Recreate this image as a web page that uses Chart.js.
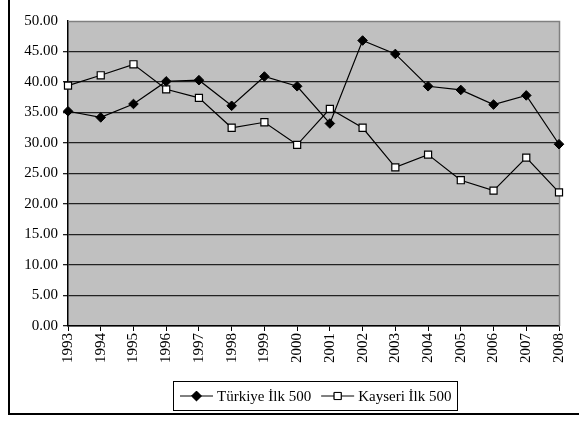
<!DOCTYPE html>
<html>
<head>
<meta charset="utf-8">
<script src="https://cdn.jsdelivr.net/npm/chart.js@4/dist/chart.umd.min.js"></script>
<style>
  html, body { margin: 0; padding: 0; background: #fff; }
  #wrap { width: 579px; height: 421px; position: relative; }
</style>
</head>
<body>
<div id="wrap"><canvas id="myChart" width="579" height="421"></canvas></div>
<script>
var years = ['1993','1994','1995','1996','1997','1998','1999','2000','2001','2002','2003','2004','2005','2006','2007','2008'];
var turkiye = [35.2, 34.2, 36.4, 40.1, 40.3, 36.1, 40.9, 39.3, 33.2, 46.8, 44.6, 39.3, 38.7, 36.3, 37.8, 29.8];
var kayseri = [39.4, 41.1, 42.9, 38.8, 37.4, 32.5, 33.4, 29.7, 35.6, 32.5, 26.0, 28.1, 23.9, 22.2, 27.6, 21.9];
var yTicks = [0, 5, 10, 15, 20, 25, 30, 35, 40, 45, 50];
var seriesNames = ['Türkiye İlk 500', 'Kayseri İlk 500'];

var FONT = '"Liberation Serif", "Times New Roman", serif';

// gray plot area, outer frame and a boxed legend like the Excel original
var excelLook = {
  id: 'excelLook',
  beforeDraw: function(chart){
    var c = chart.ctx, a = chart.chartArea;
    c.save();
    c.fillStyle = '#c0c0c0';
    c.fillRect(a.left, a.top, a.right - a.left, a.bottom - a.top);
    c.restore();
  },
  beforeDatasetsDraw: function(chart){
    var c = chart.ctx, a = chart.chartArea;
    c.save();
    c.strokeStyle = '#808080';
    c.lineWidth = 1.5;
    c.beginPath();
    c.moveTo(a.left, a.top + 0.5);
    c.lineTo(a.right + 0.5, a.top + 0.5);
    c.lineTo(a.right + 0.5, a.bottom);
    c.stroke();
    c.restore();
  },
  afterDraw: function(chart){
    var c = chart.ctx;
    c.save();
    // outer frame (left and bottom visible)
    c.strokeStyle = '#000';
    c.lineWidth = 2;
    c.beginPath();
    c.moveTo(9, 0);
    c.lineTo(9, 414);
    c.lineTo(579, 414);
    c.stroke();

    // legend box
    var bx = 173, by = 381, bw = 284, bh = 29;
    c.lineWidth = 1;
    c.strokeStyle = '#000';
    c.fillStyle = '#fff';
    c.fillRect(bx, by, bw, bh);
    c.strokeRect(bx + 0.5, by + 0.5, bw, bh);

    c.font = '15px ' + FONT;
    c.textBaseline = 'middle';
    var cy = by + bh / 2 + 0.5;
    var x = bx + 7;
    chart.data.datasets.forEach(function(ds, i){
      c.strokeStyle = '#000';
      c.lineWidth = 1;
      c.beginPath();
      c.moveTo(x, cy);
      c.lineTo(x + 33, cy);
      c.stroke();
      Chart.helpers.drawPoint(c, {
        pointStyle: ds.pointStyle,
        radius: ds.pointRadius,
        borderWidth: 1,
        rotation: 0
      }, x + 16.5, cy);
      c.fillStyle = ds.pointBackgroundColor;
      c.strokeStyle = '#000';
      c.beginPath();
      if (ds.pointStyle === 'rectRot') {
        var r = ds.pointRadius;
        c.moveTo(x + 16.5 - r, cy); c.lineTo(x + 16.5, cy - r);
        c.lineTo(x + 16.5 + r, cy); c.lineTo(x + 16.5, cy + r);
      } else {
        var s = ds.pointRadius * Math.SQRT1_2;
        c.rect(x + 16.5 - s, cy - s, 2 * s, 2 * s);
      }
      c.closePath();
      c.fill();
      c.stroke();
      c.fillStyle = '#000';
      c.fillText(ds.label, x + 37, cy + 1);
      x += 37 + c.measureText(ds.label).width + 10;
    });
    c.restore();
  }
};

var ctx = document.getElementById('myChart').getContext('2d');
var myChart = new Chart(ctx, {
  type: 'line',
  data: {
    labels: years,
    datasets: [{
      label: seriesNames[0],
      data: turkiye,
      borderColor: '#000',
      borderWidth: 1.2,
      pointStyle: 'rectRot',
      pointRadius: 4.8,
      pointBackgroundColor: '#000',
      pointBorderColor: '#000',
      pointBorderWidth: 1,
      tension: 0
    }, {
      label: seriesNames[1],
      data: kayseri,
      borderColor: '#000',
      borderWidth: 1.2,
      pointStyle: 'rect',
      pointRadius: 5,
      pointBackgroundColor: '#fff',
      pointBorderColor: '#000',
      pointBorderWidth: 1.2,
      tension: 0
    }]
  },
  options: {
    responsive: false,
    animation: false,
    devicePixelRatio: 1,
    layout: { padding: { left: 0, top: 21, right: 15, bottom: 0 } },
    plugins: {
      legend: { display: false },
      tooltip: { enabled: false }
    },
    scales: {
      x: {
        offset: false,
        afterFit: function(scale){ scale.height = 95; },
        grid: { drawOnChartArea: false, drawTicks: true, tickLength: 5, color: '#000' },
        border: { color: '#000', width: 1.5 },
        ticks: {
          minRotation: 90, maxRotation: 90, autoSkip: false, padding: 2,
          color: '#000', font: { family: FONT, size: 15 }
        }
      },
      y: {
        min: 0, max: 50,
        afterFit: function(scale){ scale.width = 68; },
        afterBuildTicks: function(scale){
          scale.ticks = yTicks.map(function(v){ return { value: v }; });
        },
        grid: {
          color: function(c){ return c.tick && c.tick.value === 50 ? 'rgba(0,0,0,0)' : '#222'; },
          lineWidth: 1.3,
          tickLength: 5
        },
        border: { color: '#000', width: 1.5 },
        ticks: {
          padding: 5,
          color: '#000',
          font: { family: FONT, size: 15 },
          callback: function(v){ return Number(v).toFixed(2); }
        }
      }
    }
  },
  plugins: [excelLook]
});
</script>
</body>
</html>
